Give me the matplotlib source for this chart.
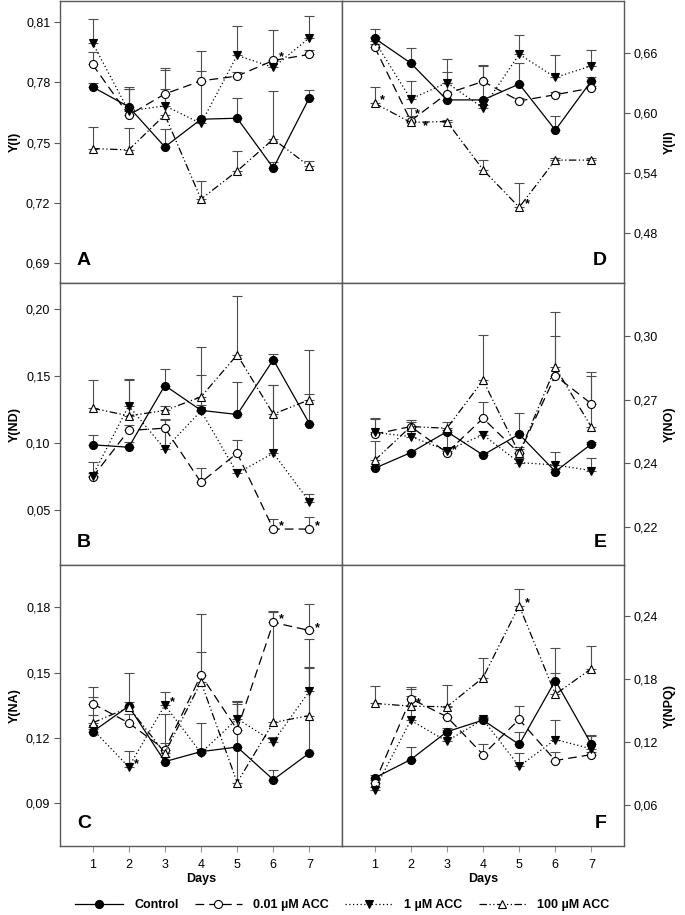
import numpy as np
import matplotlib
matplotlib.use('Agg')
from matplotlib import pyplot as plt
from matplotlib.ticker import FixedLocator, FixedFormatter

plt.rcParams['font.family'] = ['Liberation Sans', 'DejaVu Sans']

days = [1, 2, 3, 4, 5, 6, 7]
names = ['Control', '0.01 µM ACC', '1 µM ACC', '100 µM ACC']

# Y(I)
yi_ctrl = [0.7777, 0.7678, 0.7478, 0.7616, 0.7621, 0.7373, 0.7724]
yi_ctrl_err = [0.002, 0.010, 0.0088, 0.024, 0.010, 0.003, 0.004]
yi_001 = [0.7889, 0.7636, 0.7742, 0.7807, 0.7831, 0.7909, 0.7939]
yi_001_err = [0.0064, 0.013, 0.012, 0.015, 0.002, 0.015, 0.002]
yi_1 = [0.7997, 0.7657, 0.7683, 0.7595, 0.7934, 0.7874, 0.8022]
yi_1_err = [0.0116, 0.0108, 0.019, 0.002, 0.0145, 0.003, 0.011]
yi_100 = [0.7470, 0.7463, 0.7638, 0.7218, 0.7358, 0.7517, 0.7381]
yi_100_err = [0.0108, 0.0108, 0.013, 0.0088, 0.010, 0.024, 0.0025]
yi_stars = [(6, 1)]

# Y(II)
yii_ctrl = [0.6743, 0.6494, 0.6126, 0.6126, 0.6285, 0.5824, 0.6318]
yii_ctrl_err = [0.0096, 0.015, 0.0275, 0.034, 0.021, 0.014, 0.004]
yii_001 = [0.6656, 0.5917, 0.6188, 0.6311, 0.6116, 0.6178, 0.6245]
yii_001_err = [0.003, 0.005, 0.011, 0.016, 0.003, 0.003, 0.002]
yii_1 = [0.6716, 0.6135, 0.6298, 0.6046, 0.6583, 0.6351, 0.6467]
yii_1_err = [0.004, 0.018, 0.024, 0.003, 0.0196, 0.022, 0.016]
yii_100 = [0.6093, 0.5901, 0.5910, 0.5428, 0.5052, 0.5524, 0.5524]
yii_100_err = [0.0165, 0.014, 0.002, 0.0096, 0.024, 0.002, 0.002]
yii_stars = [(1, 3), (2, 1), (2, 3), (5, 3)]

# Y(ND)
ynd_ctrl = [0.0988, 0.0970, 0.1430, 0.1245, 0.1214, 0.1622, 0.1145]
ynd_ctrl_err = [0.0074, 0.004, 0.012, 0.004, 0.024, 0.0045, 0.022]
ynd_001 = [0.0747, 0.1095, 0.1112, 0.0708, 0.0926, 0.0360, 0.0360]
ynd_001_err = [0.011, 0.004, 0.007, 0.011, 0.0095, 0.0075, 0.009]
ynd_1 = [0.0757, 0.1279, 0.0956, 0.1240, 0.0776, 0.0926, 0.0563]
ynd_1_err = [0.002, 0.020, 0.022, 0.027, 0.003, 0.051, 0.006]
ynd_100 = [0.1261, 0.1204, 0.1244, 0.1345, 0.1659, 0.1217, 0.1324]
ynd_100_err = [0.021, 0.027, 0.003, 0.037, 0.044, 0.022, 0.037]
ynd_stars = [(6, 1), (7, 1)]

# Y(NO)
yno_ctrl = [0.2376, 0.2450, 0.2549, 0.2439, 0.2537, 0.2361, 0.2491]
yno_ctrl_err = [0.001, 0.001, 0.001, 0.001, 0.010, 0.001, 0.001]
yno_001 = [0.2537, 0.2573, 0.2450, 0.2612, 0.2447, 0.2813, 0.2680]
yno_001_err = [0.007, 0.002, 0.002, 0.0075, 0.002, 0.030, 0.015]
yno_1 = [0.2545, 0.2526, 0.2460, 0.2534, 0.2403, 0.2392, 0.2365]
yno_1_err = [0.007, 0.003, 0.008, 0.002, 0.002, 0.006, 0.006]
yno_100 = [0.2413, 0.2573, 0.2565, 0.2791, 0.2447, 0.2852, 0.2570]
yno_100_err = [0.009, 0.003, 0.003, 0.0215, 0.003, 0.015, 0.024]
yno_stars = [(3, 1)]
yno_ticklabels = ['0,22', '0,24', '0,27', '0,30']

# Y(NA)
yna_ctrl = [0.1228, 0.1346, 0.1091, 0.1137, 0.1158, 0.1008, 0.1131]
yna_ctrl_err = [0.002, 0.002, 0.002, 0.013, 0.020, 0.0043, 0.039]
yna_001 = [0.1358, 0.1269, 0.1146, 0.1488, 0.1238, 0.1731, 0.1694]
yna_001_err = [0.0076, 0.004, 0.003, 0.028, 0.013, 0.0054, 0.012]
yna_1 = [0.1240, 0.1066, 0.1351, 0.1131, 0.1288, 0.1183, 0.1415]
yna_1_err = [0.0065, 0.0075, 0.006, 0.002, 0.008, 0.002, 0.011]
yna_100 = [0.1269, 0.1340, 0.1131, 0.1457, 0.0995, 0.1271, 0.1303]
yna_100_err = [0.012, 0.016, 0.018, 0.014, 0.037, 0.051, 0.035]
yna_stars = [(2, 2), (3, 2), (6, 1), (7, 1)]

# Y(NPQ)
ynpq_ctrl = [0.0856, 0.1031, 0.1296, 0.1407, 0.1175, 0.1784, 0.1175]
ynpq_ctrl_err = [0.003, 0.012, 0.004, 0.002, 0.012, 0.031, 0.008]
ynpq_001 = [0.0808, 0.1611, 0.1439, 0.1079, 0.1413, 0.1022, 0.1079]
ynpq_001_err = [0.003, 0.011, 0.010, 0.0096, 0.013, 0.008, 0.002]
ynpq_1 = [0.0744, 0.1404, 0.1206, 0.1413, 0.0967, 0.1222, 0.1133]
ynpq_1_err = [0.003, 0.023, 0.011, 0.002, 0.0125, 0.019, 0.013]
ynpq_100 = [0.1566, 0.1540, 0.1534, 0.1811, 0.2496, 0.1653, 0.1898]
ynpq_100_err = [0.0166, 0.0167, 0.0205, 0.019, 0.016, 0.020, 0.0216]
ynpq_stars = [(2, 3), (5, 3)]

styles = [
    dict(ls='-', marker='o', mfc='black'),
    dict(ls=(0, (7, 4)), marker='o', mfc='white'),
    dict(ls=(0, (1, 2)), marker='v', mfc='black'),
    dict(ls=(0, (6, 2, 1, 2, 1, 2)), marker='^', mfc='white'),
]
# offsets (points) for the first / second asterisk on the same day
star_offsets = [(3, 5), (9, -3)]

fig = plt.figure(figsize=(6.85, 9.15), dpi=100)
lx, rx, w = 0.0876, 0.4993, 0.4117
rows = [(0.6907, 0.3082), (0.3825, 0.3082), (0.0754, 0.3071)]

frame_col = '0.35'


def comma(v):
    return ('%.2f' % v).replace('.', ',')


def draw(ax, vals, errs, stars, ylim, ticks, ylabel, letter, side, labels=None, bottom=False):
    for i, (v, e) in enumerate(zip(vals, errs)):
        ax.errorbar(days, v, yerr=[np.zeros(len(e)), e], fmt='none', ecolor='0.3',
                    elinewidth=0.8, capsize=3.8, capthick=0.8, zorder=2)
    for i, v in enumerate(vals):
        st = styles[i]
        ax.plot(days, v, linestyle=st['ls'], color='black', lw=0.9, marker=st['marker'],
                mfc=st['mfc'], mec='black', mew=0.8, ms=5.8, zorder=3 + i * 0.1,
                label=names[i])
    seen = {}
    for d, s in stars:
        k = seen.get(d, 0)
        seen[d] = k + 1
        off = star_offsets[k] if k > 0 or any(dd == d for dd, _ in stars[stars.index((d, s)) + 1:]) \
            else (4, 2)
        ax.annotate('*', (d, vals[s][d - 1]), xytext=off, textcoords='offset points',
                    ha='left', va='center', fontsize=9, fontweight='bold')
    ax.set_xlim(0.1, 7.9)
    ax.set_ylim(*ylim)
    ax.yaxis.set_major_locator(FixedLocator(ticks))
    if labels is None:
        labels = [comma(t) for t in ticks]
    ax.yaxis.set_major_formatter(FixedFormatter(labels))
    for sp in ax.spines.values():
        sp.set_color(frame_col)
        sp.set_linewidth(1.0)
    if side == 'right':
        ax.yaxis.tick_right()
        ax.yaxis.set_label_position('right')
        ax.text(0.94, 0.05, letter, transform=ax.transAxes, ha='right', va='bottom',
                fontsize=14, fontweight='bold')
    else:
        ax.text(0.06, 0.05, letter, transform=ax.transAxes, ha='left', va='bottom',
                fontsize=14, fontweight='bold')
    ax.tick_params(axis='y', direction='out', length=4, width=0.8, color=frame_col,
                   labelsize=9, pad=3)
    ax.set_ylabel(ylabel, fontsize=9, fontweight='bold', labelpad=4)
    if bottom:
        ax.set_xticks(days)
        ax.set_xticklabels([str(d) for d in days])
        ax.tick_params(axis='x', direction='out', length=4, width=0.8, color='0.6',
                       labelsize=9, pad=5)
        ax.set_xlabel('Days', fontsize=9, fontweight='bold', labelpad=2)
    else:
        ax.set_xticks([])


axA = fig.add_axes([lx, rows[0][0], w, rows[0][1]])
draw(axA, [yi_ctrl, yi_001, yi_1, yi_100], [yi_ctrl_err, yi_001_err, yi_1_err, yi_100_err],
     yi_stars, (0.680, 0.8205), [0.69, 0.72, 0.75, 0.78, 0.81], 'Y(I)', 'A', 'left')
axD = fig.add_axes([rx, rows[0][0], w, rows[0][1]])
draw(axD, [yii_ctrl, yii_001, yii_1, yii_100], [yii_ctrl_err, yii_001_err, yii_1_err, yii_100_err],
     yii_stars, (0.4295, 0.7115), [0.48, 0.54, 0.60, 0.66], 'Y(II)', 'D', 'right')
axB = fig.add_axes([lx, rows[1][0], w, rows[1][1]])
draw(axB, [ynd_ctrl, ynd_001, ynd_1, ynd_100], [ynd_ctrl_err, ynd_001_err, ynd_1_err, ynd_100_err],
     ynd_stars, (0.0092, 0.2194), [0.05, 0.10, 0.15, 0.20], 'Y(ND)', 'B', 'left')
axE = fig.add_axes([rx, rows[1][0], w, rows[1][1]])
draw(axE, [yno_ctrl, yno_001, yno_1, yno_100], [yno_ctrl_err, yno_001_err, yno_1_err, yno_100_err],
     yno_stars, (0.192, 0.325), [0.21, 0.24, 0.27, 0.30], 'Y(NO)', 'E', 'right',
     labels=yno_ticklabels)
axC = fig.add_axes([lx, rows[2][0], w, rows[2][1]])
draw(axC, [yna_ctrl, yna_001, yna_1, yna_100], [yna_ctrl_err, yna_001_err, yna_1_err, yna_100_err],
     yna_stars, (0.0703, 0.1995), [0.09, 0.12, 0.15, 0.18], 'Y(NA)', 'C', 'left', bottom=True)
axF = fig.add_axes([rx, rows[2][0], w, rows[2][1]])
draw(axF, [ynpq_ctrl, ynpq_001, ynpq_1, ynpq_100], [ynpq_ctrl_err, ynpq_001_err, ynpq_1_err, ynpq_100_err],
     ynpq_stars, (0.0208, 0.2884), [0.06, 0.12, 0.18, 0.24], 'Y(NPQ)', 'F', 'right', bottom=True)

handles, labs = axA.get_legend_handles_labels()
leg = fig.legend(handles, labs, loc='center', bbox_to_anchor=(0.5, 0.011), ncol=4,
                 frameon=False, handlelength=3.8, handletextpad=0.9, columnspacing=1.3,
                 prop={'weight': 'bold', 'size': 9})

fig.savefig('out.png', dpi=100)
